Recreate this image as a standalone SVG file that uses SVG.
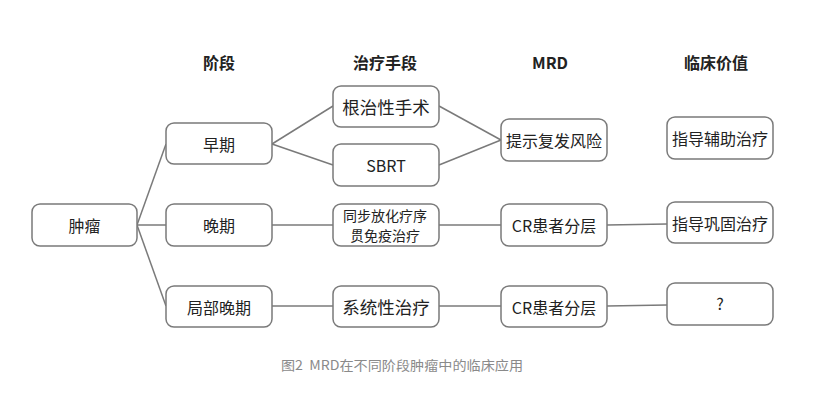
<svg xmlns="http://www.w3.org/2000/svg" width="813" height="403" viewBox="0 0 813 403">
<style>
  .box { fill: #ffffff; stroke: #7a7a7a; stroke-width: 1.5; }
  .t { font-family: "Noto Sans CJK SC", "Noto Sans", sans-serif; font-size: 16px; fill: #222222; text-anchor: middle; dominant-baseline: central; }
  .big { font-size: 17.5px; }
  .sm { font-size: 14px; }
  .h { font-family: "Noto Sans CJK SC", "Noto Sans", sans-serif; font-size: 16px; font-weight: bold; fill: #222222; text-anchor: middle; dominant-baseline: central; }
  .cap { font-family: "Noto Sans CJK SC", "Noto Sans", sans-serif; font-size: 13px; fill: #8a8a8a; dominant-baseline: central; }
  .ln { stroke: #7a7a7a; stroke-width: 1.5; fill: none; }
</style>
<rect width="813" height="403" fill="#ffffff"/>
<g id="headers">
  <text class="h" x="219" y="62">阶段</text>
  <text class="h" x="385" y="62">治疗手段</text>
  <text class="h" x="550" y="62">MRD</text>
  <text class="h" x="716" y="62">临床价值</text>
</g>
<g id="connectors">
  <line class="ln" x1="137" y1="225" x2="166" y2="144"/>
  <line class="ln" x1="137" y1="225" x2="166" y2="225"/>
  <line class="ln" x1="137" y1="225" x2="166" y2="306"/>
  <line class="ln" x1="272" y1="144" x2="333" y2="106"/>
  <line class="ln" x1="272" y1="144" x2="333" y2="165"/>
  <line class="ln" x1="439" y1="106" x2="501" y2="140"/>
  <line class="ln" x1="439" y1="165" x2="501" y2="140"/>
  <line class="ln" x1="272" y1="225" x2="333" y2="225"/>
  <line class="ln" x1="439" y1="225" x2="501" y2="225"/>
  <line class="ln" x1="607" y1="225" x2="667" y2="224"/>
  <line class="ln" x1="272" y1="306" x2="333" y2="306"/>
  <line class="ln" x1="439" y1="306" x2="501" y2="306"/>
  <line class="ln" x1="607" y1="306" x2="667" y2="305"/>
</g>
<g id="n-zhongliu"><rect class="box" x="32" y="204" width="105" height="42" rx="8"/><text class="t" x="84.5" y="225">肿瘤</text></g>
<g id="n-zaoqi"><rect class="box" x="166" y="123" width="106" height="41" rx="8"/><text class="t" x="219" y="143.5">早期</text></g>
<g id="n-wanqi"><rect class="box" x="166" y="204" width="106" height="42" rx="8"/><text class="t" x="219" y="225">晚期</text></g>
<g id="n-jubu"><rect class="box" x="166" y="286" width="106" height="41" rx="8"/><text class="t" x="219" y="306.5">局部晚期</text></g>
<g id="n-genzhi"><rect class="box" x="333" y="86" width="106" height="41" rx="8"/><text class="t big" x="386" y="106.5">根治性手术</text></g>
<g id="n-sbrt"><rect class="box" x="333" y="144" width="106" height="42" rx="8"/><text class="t" x="386" y="165">SBRT</text></g>
<g id="n-tongbu"><rect class="box" x="333" y="204" width="106" height="42" rx="8"/><text class="t sm" x="385" y="214.5">同步放化疗序</text><text class="t sm" x="385" y="235">贯免疫治疗</text></g>
<g id="n-xitong"><rect class="box" x="333" y="286" width="106" height="41" rx="8"/><text class="t big" x="386" y="306.5">系统性治疗</text></g>
<g id="n-tishi"><rect class="box" x="501" y="119" width="106" height="42" rx="8"/><text class="t" x="554" y="140">提示复发风险</text></g>
<g id="n-cr1"><rect class="box" x="501" y="204" width="106" height="42" rx="8"/><text class="t" x="554" y="225">CR患者分层</text></g>
<g id="n-cr2"><rect class="box" x="501" y="286" width="106" height="41" rx="8"/><text class="t" x="554" y="306.5">CR患者分层</text></g>
<g id="n-fuzhu"><rect class="box" x="667" y="117" width="106" height="42" rx="8"/><text class="t" x="720" y="138">指导辅助治疗</text></g>
<g id="n-gonggu"><rect class="box" x="667" y="202" width="106" height="41" rx="8"/><text class="t" x="720" y="222.5">指导巩固治疗</text></g>
<g id="n-q"><rect class="box" x="667" y="283" width="106" height="42" rx="8"/><text class="t" x="720" y="303">?</text></g>
<text class="cap" x="281" y="364" textLength="242" lengthAdjust="spacingAndGlyphs">图2&#160; MRD在不同阶段肿瘤中的临床应用</text>
</svg>
